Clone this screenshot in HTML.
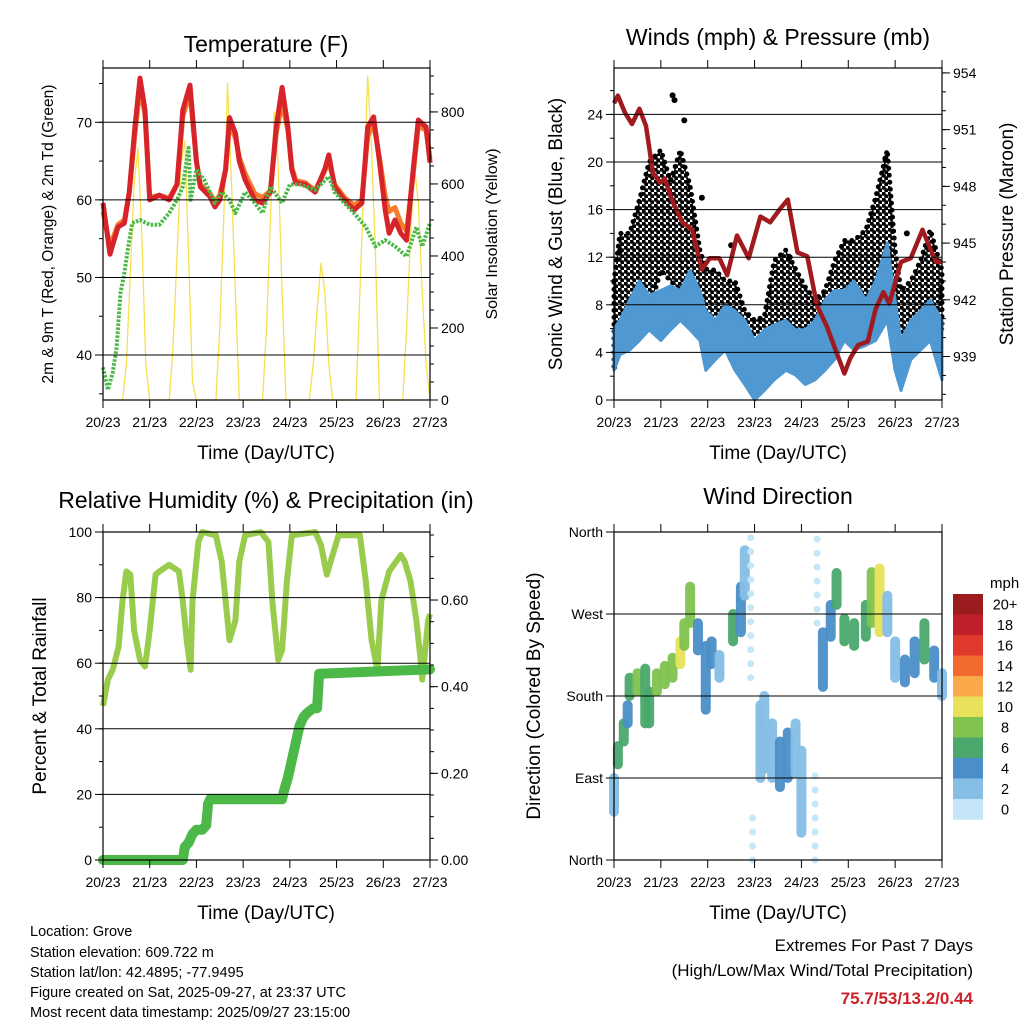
<!DOCTYPE html>
<html><head><meta charset="utf-8"><style>
html,body{margin:0;padding:0;background:#fff;}
svg{display:block;font-family:"Liberation Sans",sans-serif;}
</style></head><body>
<svg id="chart" width="1024" height="1024" viewBox="0 0 1024 1024" xmlns="http://www.w3.org/2000/svg">
<defs>
<pattern id="dotpat" patternUnits="userSpaceOnUse" width="6" height="6">
<circle cx="1.5" cy="1.5" r="2.3" fill="#000"/>
<circle cx="4.5" cy="4.5" r="2.3" fill="#000"/>
</pattern>
</defs>
<rect width="1024" height="1024" fill="#fff"/>
<g id="layer"></g>
<text x="266" y="52" font-size="23" text-anchor="middle">Temperature (F)</text>
<text x="778" y="45" font-size="23" text-anchor="middle">Winds (mph) &amp; Pressure (mb)</text>
<text x="266" y="508" font-size="23" text-anchor="middle">Relative Humidity (%) &amp; Precipitation (in)</text>
<text x="778" y="504" font-size="23" text-anchor="middle">Wind Direction</text>
<text x="266" y="459" font-size="19" text-anchor="middle">Time (Day/UTC)</text>
<text x="778" y="459" font-size="19" text-anchor="middle">Time (Day/UTC)</text>
<text x="266" y="919" font-size="19" text-anchor="middle">Time (Day/UTC)</text>
<text x="778" y="919" font-size="19" text-anchor="middle">Time (Day/UTC)</text>
<text transform="translate(53,234) rotate(-90)" font-size="15.5" text-anchor="middle">2m &amp; 9m T (Red, Orange) &amp; 2m Td (Green)</text>
<text transform="translate(497,234) rotate(-90)" font-size="16" text-anchor="middle">Solar Insolation (Yellow)</text>
<text transform="translate(562,234) rotate(-90)" font-size="19" text-anchor="middle">Sonic Wind &amp; Gust (Blue, Black)</text>
<text transform="translate(1013,234) rotate(-90)" font-size="19" text-anchor="middle">Station Pressure (Maroon)</text>
<text transform="translate(46,696) rotate(-90)" font-size="19" text-anchor="middle">Percent &amp; Total Rainfall</text>
<text transform="translate(540,696) rotate(-90)" font-size="19" text-anchor="middle">Direction (Colored By Speed)</text>
<g font-size="14.5">
<text x="30" y="936">Location: Grove</text>
<text x="30" y="957">Station elevation: 609.722 m</text>
<text x="30" y="977">Station lat/lon: 42.4895; -77.9495</text>
<text x="30" y="997">Figure created on Sat, 2025-09-27, at 23:37 UTC</text>
<text x="30" y="1017">Most recent data timestamp: 2025/09/27 23:15:00</text>
</g>
<g text-anchor="end">
<text x="973" y="951" font-size="17">Extremes For Past 7 Days</text>
<text x="973" y="976" font-size="17">(High/Low/Max Wind/Total Precipitation)</text>
<text x="973" y="1004" font-size="17" font-weight="bold" fill="#CC2229">75.7/53/13.2/0.44</text>
</g>
<text x="990" y="588" font-size="15">mph</text>
</svg>
<script>
// ---------- data ----------
const dayLabels = ["20/23","21/23","22/23","23/23","24/23","25/23","26/23","27/23"];
const tempHours = [0,3.6,7.7,11,13.5,16.4,19,21.6,24,29,34,38,41,44.7,48,50,55,57.5,60,63,65,68,70,73,78,82,86,89,92,95,97,99,104,109,114,116,119,124,129,133,136,139,142,145,147,150,153,156,159,162,166,168];
const temp2m = [59.6,53,56.5,57,61,69.4,75.7,71.6,60,60.6,60,62,71.6,74.8,65,61.7,60.4,59.1,60,63.9,70.6,68.6,65,62.6,60,59.6,61,69.4,74.5,69.4,63.9,62.2,62,61,64,65.8,61.7,60,58.7,59.6,69.4,70.7,65,58.7,55.7,57.4,55.7,54.8,63,70.3,69.4,64.8];
const temp9m = [58.5,54,56.8,57.4,61,68.5,74.5,71,60.3,60.6,60.2,62,70.8,73.8,65,62,60.8,59.8,60.6,63.9,69.8,68,65.5,63.4,60.8,60.3,61.2,68.6,72.5,69,64.2,62.5,62.2,61.2,63.8,65,62,60.3,59.3,60,68.2,69.8,65.5,60.5,58.5,59,57,56,62.5,69.5,69,65.2];
const dewHours = [0,2.5,5,7,9,11,13,15,19,24,29,34,38,41,44,45,48,52,57.5,61,65,68,73,78,82,86,92,96,101,109,116,119,124,129,135,140,145,150,156,161,164,168];
const dew2m = [38.4,35.5,37.7,41,48,50.6,54,57,57.4,56.8,56.8,58.3,60,61.7,66.7,60,63.9,62.6,59.6,61,60,58.3,61,59.6,58.3,61.7,59.6,62,62,61.3,63,61,59.6,58.3,56.5,54,54.8,54,52.7,56.5,54,57];
const solarHours = [0,2,4,6,8,10,12,14,16,18,20,22,24,26,28,30,32,34,36,38,40,42,44,46,48,50,52,54,56,58,60,62,64,66,68,70,72,74,76,78,80,82,84,86,88,90,92,94,96,98,100,102,104,106,108,110,112,114,116,118,120,122,124,126,128,130,132,134,136,138,140,142,144,146,148,150,152,154,156,158,160,162,164,166,168];
const solar = [0,0,0,0,0,0,100,350,600,700,450,100,0,0,0,0,0,0,150,400,650,720,400,50,0,0,0,0,0,0,200,500,880,600,300,0,0,0,0,0,0,0,200,500,800,650,300,0,0,0,0,0,0,0,100,250,380,300,100,0,0,0,0,0,0,0,300,600,900,700,400,0,0,0,0,0,0,0,200,450,650,550,300,100,0];

const windHours = [0,3,8,13,18,24,29,34,39,44,47,52,57,62,67,72,77,82,88,93,98,103,108,113,118,123,129,134,140,144,147,152,157,162,168];
const windLow  = [2.5,3.8,4.2,5,5.9,5,5.9,6.7,5.9,5,2.5,3.4,4.2,2.5,1.3,0,0.8,1.7,2.5,2.1,1.3,1.7,2.5,3.4,5,4.2,4.6,5,6.7,2.5,0.8,3.4,4.2,5,1.7];
const windHigh = [6,6.7,8.4,10,8.8,9.2,9.6,9.2,10.9,9.2,7.5,6.7,8,7.5,6.7,5,5.9,6.3,6.7,5.9,5.9,6.7,8.4,9.2,9.2,10,8.4,10,13.2,8.4,5,6.7,7.5,8.4,6.7];
const gustLow  = [2.5,5,6,8.4,7.5,10.9,10,9.2,9,6.7,6,5.9,4.5,5,3.4,1.7,1,5,5.9,5,4,3.4,4.2,5.9,6.7,5.9,7.5,9.5,11.7,5,3.4,5,5.9,8.4,5.9];
const gustHigh = [10,14,14,16.8,20,21,18.4,21,18,12.6,11,10.9,10,10,7.5,6.7,7,11.7,12.6,11,9.5,8.4,9.2,11.7,13.4,13.4,14.3,17,21,12.6,9.2,10,11.7,14.3,10.9];
const gustOutlierHours = [3,30,31,36,45,60,90,139,150];
const gustOutlierMph = [12.5,25.6,25.2,23.5,17,13,12,20.3,14];
const pressHours = [0,2,5.6,9.2,13,16.4,20,23.6,26,30,35,40,45,49,54,58,63,69,75,80,85,89,94,99,104,109,114,118,121,125,130,134,138,141,147,152,158,162,165,168];
const pressure = [952.4,952.8,951.9,951.3,952.1,951.2,948.7,948.2,948.4,947.2,946.1,945.7,943.6,944.2,944.2,943.3,945.4,944.2,946.4,946.1,946.8,947.3,944.5,944.3,941.7,940.6,939.2,938.1,938.9,939.6,939.8,941.5,942.4,941.8,944,944.2,945.7,944.7,944,944];

const rhHours = [0,2.5,5,8,10,12,14,16,19,21.6,24,27,29,34,39,41,43,45,46,49,51,58,61,63,65,68,70,73,81,85,87,90,92,94.5,97,109,112,115,117,121,132,135,138,141,143,147,153,155,158,161,163,164,167,168];
const rh = [47,55,58,65,79,88,87,70,61,59,70,87,88,90,88,79,67,58,79,97,100,99,91,79,67,73,91,99,100,97,79,61,64,85,99,100,96,87,91,99,99,85,67,58,79,88,93,91,85,73,62,55,73,75];
const rainHours = [0,41,42,44,46,48,51,53,54,55,92,93,95,97,99,101,103,105,108,110,111,168];
const rainTotal = [0,0,0.03,0.04,0.06,0.07,0.07,0.08,0.13,0.14,0.14,0.16,0.19,0.23,0.27,0.31,0.33,0.34,0.35,0.35,0.43,0.44];

const dirHours = [0,2,5,7,8,12,16,18,22,26,30,34,36,39,43,47,50,54,61,65,67,70,71,75,77,81,85,89,93,96,103,104,107,111,114,118,123,129,132,136,140,144,149,154,159,164,168];
const dirLow  = [53,105,130,150,180,185,150,150,185,193,200,215,235,260,230,165,215,200,240,250,290,200,0,90,100,90,80,90,95,30,0,260,190,245,280,240,235,245,260,250,250,200,195,205,220,200,180];
const dirHigh = [90,125,150,170,200,205,210,185,205,213,222,240,260,300,260,235,240,225,270,300,340,360,60,170,180,150,130,140,150,120,100,360,250,280,315,265,260,280,316,320,290,240,220,240,260,230,205];
const dirSpeed = [3,6,6,4,6,8,7,7,9,8,9,10,8,8,4,4,5,3,6,4,3,1,1,2,2,3,4,4,3,2,1,1,4,5,7,6,7,7,9,11,3,3,4,5,6,4,3];

const speedLevels = ["0","2","4","6","8","10","12","14","16","18","20+"];
const speedColors = ["#C4E6F8","#86BEE6","#4A8FC9","#4AA86C","#80C34F","#E8E25A","#F9A84A","#F26A2E","#E03A2D","#C0202A","#9B1B1E"];

// ---------- helpers ----------
const NS="http://www.w3.org/2000/svg";
const layer=document.getElementById('layer');
function mk(tag,attrs,parent){const e=document.createElementNS(NS,tag);for(const k in attrs)e.setAttribute(k,attrs[k]);(parent||layer).appendChild(e);return e;}
function lin(d0,d1,r0,r1){return v=>r0+(v-d0)*(r1-r0)/(d1-d0);}
function pts(xs,ys,fx,fy){return xs.map((t,i)=>fx(t).toFixed(1)+','+fy(ys[i]).toFixed(1)).join(' ');}
function band(xs,hi,lo,fx,fy){
  const a=xs.map((t,i)=>fx(t).toFixed(1)+','+fy(hi[i]).toFixed(1));
  const b=[];for(let i=xs.length-1;i>=0;i--)b.push(fx(xs[i]).toFixed(1)+','+fy(lo[i]).toFixed(1));
  return a.concat(b).join(' ');
}

function panel(name,x0,x1,y0,y1){
  const g=mk('g',{});
  
  
  const fx=lin(0,168,x0,x1);
  dayLabels.forEach((lab,i)=>{
    const x=fx(i*24);
    mk('line',{x1:x,x2:x,y1:y1,y2:y1+8,stroke:'#000','stroke-width':1},g);
    mk('line',{x1:x,x2:x,y1:y0,y2:y0-8,stroke:'#000','stroke-width':1},g);
    const t=mk('text',{x:x,y:y1+27,'font-size':14,'text-anchor':'middle'},g);
    
    
    t.textContent=lab;
  });
  return {g,fx};
}
function frame(g,x0,x1,y0,y1){
  mk('rect',{x:x0,y:y0,width:x1-x0,height:y1-y0,fill:'none',stroke:'#000','stroke-width':1.2},g);
}
function leftAxis(g,x0,x1,fy,majors,labels,minors,grid){
  minors.forEach(v=>{const y=fy(v);mk('line',{x1:x0-4,x2:x0,y1:y,y2:y,stroke:'#000'},g);});
  majors.forEach((v,i)=>{const y=fy(v);
    if(grid)mk('line',{x1:x0,x2:x1,y1:y,y2:y,stroke:'#000','stroke-width':1},g);
    mk('line',{x1:x0-8,x2:x0,y1:y,y2:y,stroke:'#000'},g);
    const t=mk('text',{x:x0-11,y:y+5,'font-size':14,'text-anchor':'end'},g);
    
    
    t.textContent=labels[i];});
}
function rightAxis(g,x1,fy,majors,labels,minors){
  minors.forEach(v=>{const y=fy(v);mk('line',{x1:x1,x2:x1+4,y1:y,y2:y,stroke:'#000'},g);});
  majors.forEach((v,i)=>{const y=fy(v);
    mk('line',{x1:x1,x2:x1+8,y1:y,y2:y,stroke:'#000'},g);
    const t=mk('text',{x:x1+11,y:y+5,'font-size':14,'text-anchor':'start'},g);
    
    
    t.textContent=labels[i];});
}
function range(a,b,s){const r=[];for(let v=a;v<=b+1e-9;v+=s)r.push(+v.toFixed(4));return r;}

// ---------- panel 1: temperature ----------
(function(){
  const x0=103,x1=430,y0=68,y1=400;
  const {g,fx}=panel('temperature',x0,x1,y0,y1);
  const fy=lin(34.2,77,y1,y0), fs=lin(0,922,y1,y0);
  leftAxis(g,x0,x1,fy,[40,50,60,70],["40","50","60","70"],range(35,75,5),true);
  rightAxis(g,x1,fs,[0,200,400,600,800],["0","200","400","600","800"],range(0,900,50));
  const s=mk('polyline',{points:pts(solarHours,solar,fx,fs),fill:'none',stroke:'#F7E04F','stroke-width':1.3,'stroke-linejoin':'round'});
  
  
  const o=mk('polyline',{points:pts(tempHours,temp9m,fx,fy),fill:'none',stroke:'#F47C2A','stroke-width':5,'stroke-linejoin':'round'});
  
  
  const r=mk('polyline',{points:pts(tempHours,temp2m,fx,fy),fill:'none',stroke:'#D7242B','stroke-width':5,'stroke-linejoin':'round'});
  
  
  const d=mk('polyline',{points:pts(dewHours,dew2m,fx,fy),fill:'none',stroke:'#4CB848','stroke-width':4,'stroke-dasharray':'2.5 1.5','stroke-linejoin':'round'});
  
  
  frame(g,x0,x1,y0,y1);
  layer.appendChild(g);
})();

// ---------- panel 2: winds ----------
(function(){
  const x0=614,x1=942,y0=68,y1=400;
  const {g,fx}=panel('winds',x0,x1,y0,y1);
  const fy=lin(0,27.9,y1,y0), fp=lin(936.7,954.26,y1,y0);
  leftAxis(g,x0,x1,fy,[0,4,8,12,16,20,24],["0","4","8","12","16","20","24"],range(0,26,2),true);
  rightAxis(g,x1,fp,[939,942,945,948,951,954],["939","942","945","948","951","954"],range(937,954,1));
  const gb=mk('polygon',{points:band(windHours,gustHigh,gustLow,fx,fy),fill:'url(#dotpat)',stroke:'#000','stroke-width':5,'stroke-dasharray':'0 7','stroke-linecap':'round','stroke-linejoin':'round'});
  
  
  gustOutlierHours.forEach((t,i)=>{
    const c=mk('circle',{cx:fx(t),cy:fy(gustOutlierMph[i]),r:3,fill:'#000'});
    
    
  });
  const wb=mk('polygon',{points:band(windHours,windHigh,windLow,fx,fy),fill:'#4F98D2',stroke:'#4F98D2','stroke-width':3,'stroke-linejoin':'round'});
  
  
  const p=mk('polyline',{points:pts(pressHours,pressure,fx,fp),fill:'none',stroke:'#A01A1E','stroke-width':4.5,'stroke-linejoin':'round'});
  
  
  frame(g,x0,x1,y0,y1);
  layer.appendChild(g);
})();

// ---------- panel 3: humidity & rain ----------
(function(){
  const x0=103,x1=430,y0=532,y1=860;
  const {g,fx}=panel('humidity',x0,x1,y0,y1);
  const fy=lin(0,100,y1,y0), fr=lin(0,0.757,y1,y0);
  leftAxis(g,x0,x1,fy,[0,20,40,60,80,100],["0","20","40","60","80","100"],range(0,100,10),true);
  rightAxis(g,x1,fr,[0,0.2,0.4,0.6],["0.00","0.20","0.40","0.60"],range(0,0.75,0.05));
  const h=mk('polyline',{points:pts(rhHours,rh,fx,fy),fill:'none',stroke:'#99CC4D','stroke-width':6,'stroke-linejoin':'round'});
  
  
  const r=mk('polyline',{points:pts(rainHours,rainTotal,fx,fr),fill:'none',stroke:'#4CB848','stroke-width':10,'stroke-linejoin':'round','stroke-linecap':'round'});
  
  
  frame(g,x0,x1,y0,y1);
  layer.appendChild(g);
})();

// ---------- panel 4: wind direction ----------
(function(){
  const x0=614,x1=942,y0=532,y1=860;
  const {g,fx}=panel('wind-direction',x0,x1,y0,y1);
  const fy=lin(0,360,y1,y0);
  leftAxis(g,x0,x1,fy,[0,90,180,270,360],["North","East","South","West","North"],[],true);
  const colorOf=s=>speedColors[Math.max(0,Math.min(10,Math.floor(s/2)))];
  dirHours.forEach((t,i)=>{
    const sparse=dirSpeed[i]<=1;
    const l=mk('line',{x1:fx(t),x2:fx(t),y1:fy(dirLow[i]),y2:fy(dirHigh[i]),stroke:colorOf(dirSpeed[i]),'stroke-width':sparse?7:10,'stroke-linecap':'round','stroke-dasharray':sparse?'0 14':'none',opacity:0.95});
    
    
  });
  frame(g,x0,x1,y0,y1);
  layer.appendChild(g);
  const cb=mk('g',{});
  
  
  const top=594,bh=20.5;
  for(let k=10;k>=0;k--){
    const y=top+(10-k)*bh;
    const r=mk('rect',{x:953,y:y,width:30,height:bh+0.3,fill:speedColors[k]},cb);
    
    
    const t=mk('text',{x:1005,y:y+bh/2+5,'font-size':14.5,'text-anchor':'middle'},cb);
    
    
    t.textContent=speedLevels[k];
  }
})();
</script>
</body></html>
